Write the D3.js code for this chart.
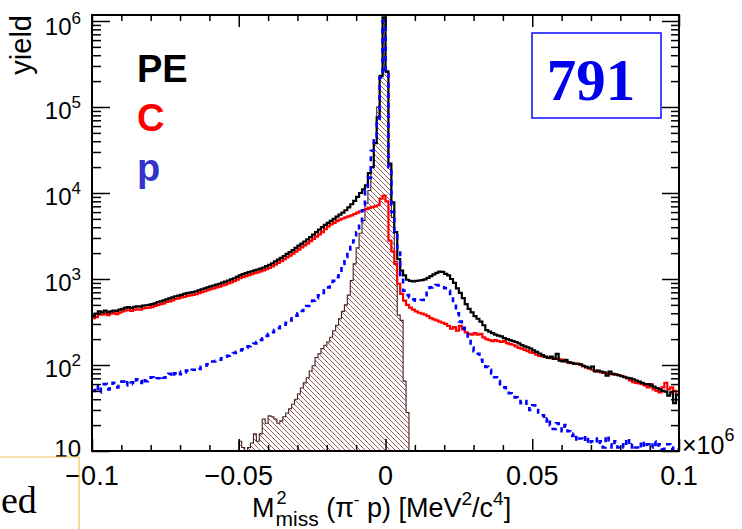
<!DOCTYPE html>
<html><head><meta charset="utf-8">
<script src="https://cdn.jsdelivr.net/npm/d3@7"></script>
<style>body{margin:0;background:#fff;} svg{display:block;}</style>
</head><body>
<svg id="c" width="742" height="529"></svg>
<script>
// ---------- data ----------
const xMin = -0.1, xMax = 0.1, binW = 0.001;
const yMin = 10, yMax = 1.174e6;

// PE (black) - 200 bins of 0.001 from -0.1
const pe = [
370,395,420,410,428,410,420,430,425,440,
450,465,470,460,475,480,478,490,495,500,
510,520,540,550,565,580,595,610,630,640,
655,670,685,695,705,720,740,760,780,800,
820,840,860,880,905,930,960,990,1020,1060,
1100,1140,1170,1200,1230,1260,1290,1320,1360,1410,
1460,1520,1600,1680,1760,1850,1960,2060,2170,2300,
2440,2580,2730,2900,3080,3280,3500,3750,4000,4250,
4500,4750,5000,5300,5600,5900,6300,6800,7400,8100,
9000,10000,11000,12300,17000,20000,38000,76000,230000,1100000,
260000,22000,7800,3500,1700,1250,1100,980,950,940,
950,960,970,990,1030,1080,1130,1180,1220,1210,
1150,1100,1000,900,780,690,600,510,450,410,
370,345,320,290,255,245,235,225,220,215,
205,200,195,190,185,178,170,165,160,155,
148,142,136,130,125,121,125,118,135,112,
110,115,108,106,104,103,102,98,95,92,
96,84,86,84,82,75,84,79,78,76,
74,72,71,70,68,66,64,62,60,60,
58,56,54,52,50,49,44,48,36,45];

// C (red)
const carbon = [
350,360,385,385,395,380,395,400,390,405,
420,430,440,425,440,445,440,455,460,465,
470,485,500,510,520,540,550,565,585,595,
610,620,635,645,655,665,685,705,720,740,
760,780,800,815,840,860,890,915,945,980,
1020,1050,1080,1110,1140,1170,1195,1225,1260,1300,
1350,1400,1470,1540,1610,1690,1780,1870,1970,2080,
2200,2330,2460,2600,2760,2930,3110,3300,3500,3800,
4100,4300,4500,4700,4900,5050,5200,5350,5500,5700,
5900,6100,6300,6500,6700,6850,7000,7200,8600,9300,
8000,2800,2100,1500,880,670,560,500,465,440,
420,405,395,385,370,350,340,330,320,310,
300,285,265,275,250,285,260,240,230,225,
235,225,230,210,200,195,190,195,190,185,
190,180,175,172,165,158,155,150,145,140,
138,132,128,126,124,122,120,118,118,116,
114,110,106,105,104,103,100,96,93,91,
88,86,84,82,81,80,79,78,77,76,
75,73,70,66,63,62,61,60,58,55,
60,52,50,48,55,62,52,55,50,45];

// p (blue, dashed)
const proton = [
50,57,48,55,60,52,58,62,55,60,
64,58,66,63,60,68,62,70,65,66,
72,68,70,74,71,76,79,73,80,84,
78,82,86,84,88,92,90,95,98,102,
106,110,112,115,120,125,128,132,138,142,
148,152,158,165,170,178,185,195,205,218,
230,240,255,268,280,295,310,330,350,375,
400,425,455,485,520,560,600,645,690,740,
800,870,950,1050,1200,1500,1800,2100,2500,2800,
3500,4400,6300,10700,15000,31000,41000,70000,220000,1000000,
240000,20000,6000,3500,2150,1030,730,650,610,580,
560,560,570,620,730,800,840,850,840,800,
780,730,620,520,400,320,270,230,190,160,
145,135,115,105,95,88,80,72,65,60,
55,50,47,44,42,40,36,38,33,30,
34,30,28,26,22,24,20,18,21,19,
17,20,17,15,16,13,14,13,15,12,
13,14,12,13,11,15,12,11,13,11,
12,11,14,11,12,11,10.5,13,11,12,
11,13,11,12,10.5,11,12,10.5,11,10.5];

// hatched histogram, starts at bin 50
const hatchStart = 50;
const hatched = [
13,11,10,11,12.4,15.8,13,15.8,23.6,21,
25.6,25,23.6,21,22.4,25,27.7,31,35,40,
46,54,62,71,85,98,122,135,155,170,
185,210,250,290,345,420,500,650,960,1500,
2300,3400,4800,7600,10700,20000,38000,100000,230000,1100000,
250000,21000,5200,1600,380,330,65,28];

const xMajorTicks = [-0.1, -0.05, 0, 0.05, 0.1];
const xTickLabels = ["\u22120.1", "\u22120.05", "0", "0.05", "0.1"];
const yExponents = [1, 2, 3, 4, 5, 6];
const legendLabels = ["PE", "C", "p"];
const legendColors = ["#000000", "#ff0000", "#3333cc"];
const runNumber = "791";
const yTitle = "yield";

// ---------- drawing ----------
const svg = d3.select("#c");
const L = 92, R = 679, T = 15, B = 451;
const x = d3.scaleLinear().domain([xMin, xMax]).range([L, R]);
const y = d3.scaleLog().domain([yMin, yMax]).range([B, T]);
const font = "'Liberation Sans', Arial, Helvetica, sans-serif";

const yc = v => y(Math.max(v, yMin));
function stepPath(vals, start) {
  let d = "";
  vals.forEach((v, j) => {
    const i = start + j;
    const x0 = x(xMin + i * binW), x1 = x(xMin + (i + 1) * binW);
    d += (j === 0 ? `M${x0},${yc(v)}` : `V${yc(v)}`) + `H${x1}`;
  });
  return d;
}
function areaPath(vals, start) {
  const x0 = x(xMin + start * binW);
  return `M${x0},${B}V${yc(vals[0])}` + stepPath(vals, start).replace(/^M[^H]*/, "") + `V${B}Z`;
}

// hatch pattern
const defs = svg.append("defs");
const pat = defs.append("pattern").attr("id", "hatch").attr("patternUnits", "userSpaceOnUse")
  .attr("width", 5).attr("height", 5);
pat.append("path").attr("d", "M-1,-1L6,6M-1,4L1,6M4,-1L6,1")
  .attr("stroke", "#8a4a4a").attr("stroke-width", 0.9);
defs.append("clipPath").attr("id", "frameClip").append("rect")
  .attr("x", L).attr("y", T).attr("width", R - L).attr("height", B - T);

const plot = svg.append("g").attr("clip-path", "url(#frameClip)");
plot.append("path").attr("d", areaPath(hatched, hatchStart))
  .attr("fill", "url(#hatch)").attr("stroke", "#4a2020").attr("stroke-width", 1.1);
plot.append("path").attr("d", stepPath(carbon, 0))
  .attr("fill", "none").attr("stroke", "#ff0000").attr("stroke-width", 2.2);
plot.append("path").attr("d", stepPath(pe, 0))
  .attr("fill", "none").attr("stroke", "#000").attr("stroke-width", 2.2);
plot.append("path").attr("d", stepPath(proton, 0))
  .attr("fill", "none").attr("stroke", "#0000ff").attr("stroke-width", 2.6)
  .attr("stroke-dasharray", "5,5");

// axes
const yMajors = yExponents.map(e => Math.pow(10, e));
const yMinors = [];
yExponents.forEach(e => { for (let k = 2; k <= 9; k++) { const v = k * Math.pow(10, e); if (v < yMax) yMinors.push(v); } });
const xMinors = d3.range(-10, 11).map(k => k / 100).filter(v => Math.abs(v * 20 - Math.round(v * 20)) > 1e-6);

function styleAxis(g) {
  g.select(".domain").remove();
  g.selectAll(".tick line").attr("stroke", "#000").attr("stroke-width", 1.5);
  g.selectAll(".tick text").remove();
}
svg.append("g").attr("transform", `translate(${L},0)`).call(d3.axisLeft(y).tickValues(yMajors).tickSize(-18)).call(styleAxis);
svg.append("g").attr("transform", `translate(${L},0)`).call(d3.axisLeft(y).tickValues(yMinors).tickSize(-9)).call(styleAxis);
svg.append("g").attr("transform", `translate(${R},0)`).call(d3.axisRight(y).tickValues(yMajors).tickSize(-17)).call(styleAxis);
svg.append("g").attr("transform", `translate(${R},0)`).call(d3.axisRight(y).tickValues(yMinors).tickSize(-8)).call(styleAxis);
svg.append("g").attr("transform", `translate(0,${B})`).call(d3.axisBottom(x).tickValues(xMajorTicks).tickSize(-12)).call(styleAxis);
svg.append("g").attr("transform", `translate(0,${B})`).call(d3.axisBottom(x).tickValues(xMinors).tickSize(-6)).call(styleAxis);
svg.append("g").attr("transform", `translate(0,${T})`).call(d3.axisTop(x).tickValues(xMajorTicks).tickSize(-12)).call(styleAxis);
svg.append("g").attr("transform", `translate(0,${T})`).call(d3.axisTop(x).tickValues(xMinors).tickSize(-6)).call(styleAxis);

// frame
svg.append("rect").attr("x", L).attr("y", T).attr("width", R - L).attr("height", B - T)
  .attr("fill", "none").attr("stroke", "#000").attr("stroke-width", 2);

// y tick labels
yExponents.forEach(e => {
  const v = Math.pow(10, e);
  const by = Math.min(Math.max(y(v) + 12, 35), 457);
  const t = svg.append("text").attr("x", 81).attr("y", by).attr("text-anchor", "end")
    .attr("font-family", font).attr("font-size", 24).attr("fill", "#000");
  t.append("tspan").text("10");
  if (e > 1) t.append("tspan").attr("dy", -11).attr("font-size", 17).text(String(e));
});

// x tick labels
xMajorTicks.forEach((v, i) => {
  svg.append("text").attr("x", x(v)).attr("y", 485).attr("text-anchor", "middle")
    .attr("font-family", font).attr("font-size", 27).attr("fill", "#000").text(xTickLabels[i]);
});
// x10^6
const mult = svg.append("text").attr("x", 682).attr("y", 454).attr("font-family", font)
  .attr("font-size", 25).attr("fill", "#000");
mult.append("tspan").text("\u00d710");
mult.append("tspan").attr("dy", -13).attr("font-size", 18).text("6");

// y title
svg.append("text").attr("transform", `translate(31,${T}) rotate(-90)`).attr("text-anchor", "end")
  .attr("font-family", font).attr("font-size", 29).attr("fill", "#000").text(yTitle);

// x title
const tx = 252, ty = 517;
const tM = svg.append("text").attr("x", tx).attr("y", ty).attr("font-family", font)
  .attr("font-size", 27).attr("fill", "#000").text("M");
const wM = tM.node().getComputedTextLength();
svg.append("text").attr("x", tx + wM + 2).attr("y", ty - 13).attr("font-family", font)
  .attr("font-size", 18).attr("fill", "#000").text("2");
const tSub = svg.append("text").attr("x", tx + wM + 1).attr("y", ty + 9).attr("font-family", font)
  .attr("font-size", 21).attr("fill", "#000").text("miss");
const wSub = tSub.node().getComputedTextLength();
const rest = svg.append("text").attr("x", tx + wM + 1 + wSub).attr("y", ty).attr("font-family", font)
  .attr("font-size", 27).attr("fill", "#000");
rest.append("tspan").text("\u00a0(\u03c0");
rest.append("tspan").attr("dy", -12).attr("font-size", 17).text("-");
rest.append("tspan").attr("dy", 12).text("\u00a0p) [MeV");
rest.append("tspan").attr("dy", -12).attr("font-size", 19).text("2");
rest.append("tspan").attr("dy", 12).text("/c");
rest.append("tspan").attr("dy", -12).attr("font-size", 19).text("4");
rest.append("tspan").attr("dy", 12).text("]");

// legend
const legY = [82, 131, 181];
legendLabels.forEach((s, i) => {
  svg.append("text").attr("x", 137).attr("y", legY[i]).attr("font-family", font)
    .attr("font-weight", "bold").attr("font-size", 38).attr("fill", legendColors[i]).text(s);
});

// run number box
svg.append("rect").attr("x", 532).attr("y", 33).attr("width", 129).attr("height", 85)
  .attr("fill", "#fff").attr("stroke", "#1a1aff").attr("stroke-width", 1.6);
svg.append("text").attr("x", 591).attr("y", 100).attr("text-anchor", "middle")
  .attr("font-family", "'Liberation Serif', 'Times New Roman', serif").attr("font-weight", "bold")
  .attr("font-size", 59).attr("fill", "#0000ee").text(runNumber);

// bottom-left slide box
svg.append("path").attr("d", "M0,457H79V529").attr("fill", "none")
  .attr("stroke", "#f0c35a").attr("stroke-width", 1.2);
svg.append("text").attr("x", 1).attr("y", 513)
  .attr("font-family", "'Liberation Serif', 'Times New Roman', serif")
  .attr("font-size", 38).attr("fill", "#000").text("ed");
</script>
</body></html>
